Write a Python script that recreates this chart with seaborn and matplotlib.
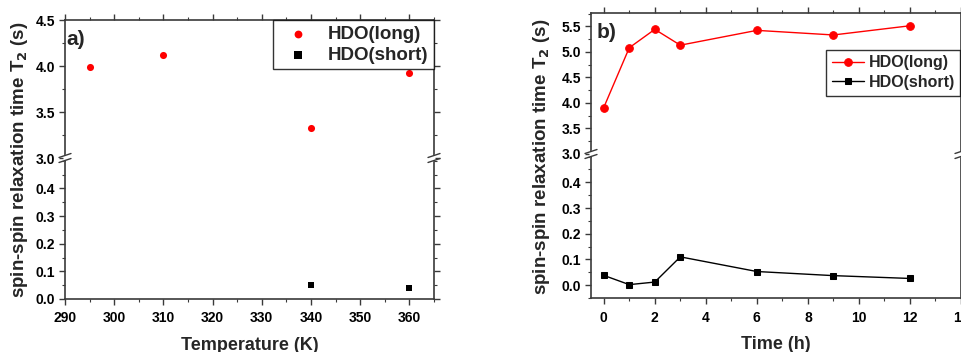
import matplotlib
matplotlib.use("Agg")
import matplotlib.pyplot as plt
import seaborn as sns
import pandas as pd
from matplotlib.ticker import MultipleLocator
from matplotlib.lines import Line2D
from matplotlib.patches import Polygon

# ======== DATA ========
temp_long = [295, 310, 340, 360]
t2_temp_long = [3.99, 4.12, 3.33, 3.92]
temp_short = [340, 360]
t2_temp_short = [0.052, 0.040]

time_h = [0, 1, 2, 3, 6, 9, 12]
t2_time_long = [3.91, 5.08, 5.44, 5.13, 5.42, 5.33, 5.51]
t2_time_short = [0.038, 0.002, 0.012, 0.110, 0.053, 0.037, 0.026]
# ======================

sns.set_theme(style="ticks")
plt.rcParams["font.family"] = ["Liberation Sans", "DejaVu Sans"]
plt.rcParams["font.weight"] = "bold"
plt.rcParams["axes.labelweight"] = "bold"

SPINE = "#3a3a3a"
RED = "#ff0000"
YLABEL = "spin-spin relaxation time T$_\\mathbf{2}$ (s)"

fig = plt.figure(figsize=(9.62, 3.52), dpi=100)
W, H = 962, 352


def box(x0, y0, x1, y1):
    # pixel box -> figure fraction [left, bottom, w, h]
    return [x0 / W, 1 - y1 / H, (x1 - x0) / W, (y1 - y0) / H]


def fp(x, y):
    return (x / W, 1 - y / H)


def style(ax, part):
    for s in ax.spines.values():
        s.set_color(SPINE)
        s.set_linewidth(1.2)
    ax.tick_params(direction="out", colors=SPINE, labelcolor="black",
                   labelsize=10, width=1.0, length=4, pad=5,
                   left=True, right=True, top=(part == "top"),
                   bottom=(part == "bottom"), labelbottom=(part == "bottom"))
    ax.tick_params(which="minor", direction="out", colors=SPINE, length=2.5,
                   width=0.8, left=True, right=True, top=(part == "top"),
                   bottom=(part == "bottom"))
    ax.tick_params(axis="y", pad=3)
    if part == "top":
        ax.spines["bottom"].set_visible(False)
    else:
        ax.spines["top"].set_visible(False)
    for lab in ax.get_xticklabels() + ax.get_yticklabels():
        lab.set_fontweight("bold")
    ax.set_xlabel("")
    ax.set_ylabel("")


def breaks(xs, y):
    # "//" axis-break marks on the spines, in figure pixels
    for x in xs:
        fig.add_artist(Polygon([fp(x - 1.5, y - 2.5), fp(x + 1.5, y - 3.5),
                                fp(x + 1.5, y + 2.5), fp(x - 1.5, y + 3.5)],
                               closed=True, transform=fig.transFigure,
                               facecolor="white", edgecolor="none", zorder=10))
        for dy in (-2.5, 2.5):
            (x0, y0), (x1, y1) = fp(x - 6, y + dy + 2), fp(x + 6, y + dy - 2)
            fig.add_artist(Line2D([x0, x1], [y0, y1], transform=fig.transFigure,
                                  color=SPINE, lw=1.0, zorder=11))


# ---------- panel a ----------
a_top = fig.add_axes(box(65, 20, 434, 158))
a_bot = fig.add_axes(box(65, 158, 434, 299))

df_a_long = pd.DataFrame({"T": temp_long, "t2": t2_temp_long})
df_a_short = pd.DataFrame({"T": temp_short, "t2": t2_temp_short})
sns.scatterplot(data=df_a_long, x="T", y="t2", ax=a_top, color=RED, marker="o",
                s=26, edgecolor=RED, linewidth=0, label="HDO(long)")
sns.scatterplot(data=df_a_short, x="T", y="t2", ax=a_bot, color="black", marker="s",
                s=22, edgecolor="black", linewidth=0, label="HDO(short)")

for ax in (a_top, a_bot):
    ax.set_xlim(290, 365)
    ax.xaxis.set_major_locator(MultipleLocator(10))
    ax.xaxis.set_minor_locator(MultipleLocator(5))
a_top.set_ylim(3.0, 4.5)
a_top.yaxis.set_major_locator(MultipleLocator(0.5))
a_top.yaxis.set_minor_locator(MultipleLocator(0.25))
a_bot.set_ylim(0, 0.51)
a_bot.set_yticks([0.0, 0.1, 0.2, 0.3, 0.4])
a_bot.yaxis.set_minor_locator(MultipleLocator(0.05))

h1, l1 = a_top.get_legend_handles_labels()
h2, l2 = a_bot.get_legend_handles_labels()
a_bot.get_legend().remove()
style(a_top, "top")
style(a_bot, "bottom")
a_top.legend(h1 + h2, l1 + l2, loc="upper right", frameon=True, fancybox=False,
             edgecolor="black", prop={"weight": "bold", "size": 13.5},
             borderaxespad=0.0, handletextpad=0.6, labelspacing=0.2,
             borderpad=0.3, markerscale=1.1).get_frame().set_linewidth(1.0)
a_top.text(0.005, 0.93, "a)", transform=a_top.transAxes, fontsize=15,
           fontweight="bold", va="top", ha="left")
a_bot.set_xlabel("Temperature (K)", fontsize=13, fontweight="bold", labelpad=8)
fig.text(20 / W, 1 - 160 / H, YLABEL, rotation=90, fontsize=13.5,
         fontweight="bold", ha="center", va="center")

# ---------- panel b ----------
b_top = fig.add_axes(box(591, 13, 961, 154))
b_bot = fig.add_axes(box(591, 154, 961, 298))

df_b = pd.DataFrame({"t": time_h, "long": t2_time_long, "short": t2_time_short})
sns.lineplot(data=df_b, x="t", y="long", ax=b_top, color=RED, marker="o",
             markersize=5.5, markeredgecolor=RED, linewidth=1.0, label="HDO(long)")
sns.lineplot(data=df_b, x="t", y="short", ax=b_bot, color="black", marker="s",
             markersize=5, markeredgecolor="black", linewidth=1.0, label="HDO(short)")

for ax in (b_top, b_bot):
    ax.set_xlim(-0.5, 14)
    ax.xaxis.set_major_locator(MultipleLocator(2))
    ax.xaxis.set_minor_locator(MultipleLocator(1))
b_top.set_ylim(3.0, 5.76)
b_top.yaxis.set_major_locator(MultipleLocator(0.5))
b_top.yaxis.set_minor_locator(MultipleLocator(0.25))
b_bot.set_ylim(-0.05, 0.51)
b_bot.set_yticks([0.0, 0.1, 0.2, 0.3, 0.4])
b_bot.yaxis.set_minor_locator(MultipleLocator(0.05))

h1, l1 = b_top.get_legend_handles_labels()
h2, l2 = b_bot.get_legend_handles_labels()
b_bot.get_legend().remove()
style(b_top, "top")
style(b_bot, "bottom")
b_top.legend(h1 + h2, l1 + l2, loc="upper right", bbox_to_anchor=(0.998, 0.74),
             frameon=True, fancybox=False, edgecolor="black",
             prop={"weight": "bold", "size": 11.5}, borderaxespad=0.0,
             handlelength=2.0, handletextpad=0.3, labelspacing=0.3,
             borderpad=0.35).get_frame().set_linewidth(1.0)
b_top.text(0.015, 0.93, "b)", transform=b_top.transAxes, fontsize=15,
           fontweight="bold", va="top", ha="left")
b_bot.set_xlabel("Time (h)", fontsize=13, fontweight="bold", labelpad=8)
fig.text(542 / W, 1 - 157 / H, YLABEL, rotation=90, fontsize=13.5,
         fontweight="bold", ha="center", va="center")

breaks([65, 434], 158)
breaks([591, 961], 154)

fig.savefig("out.png", dpi=100)
